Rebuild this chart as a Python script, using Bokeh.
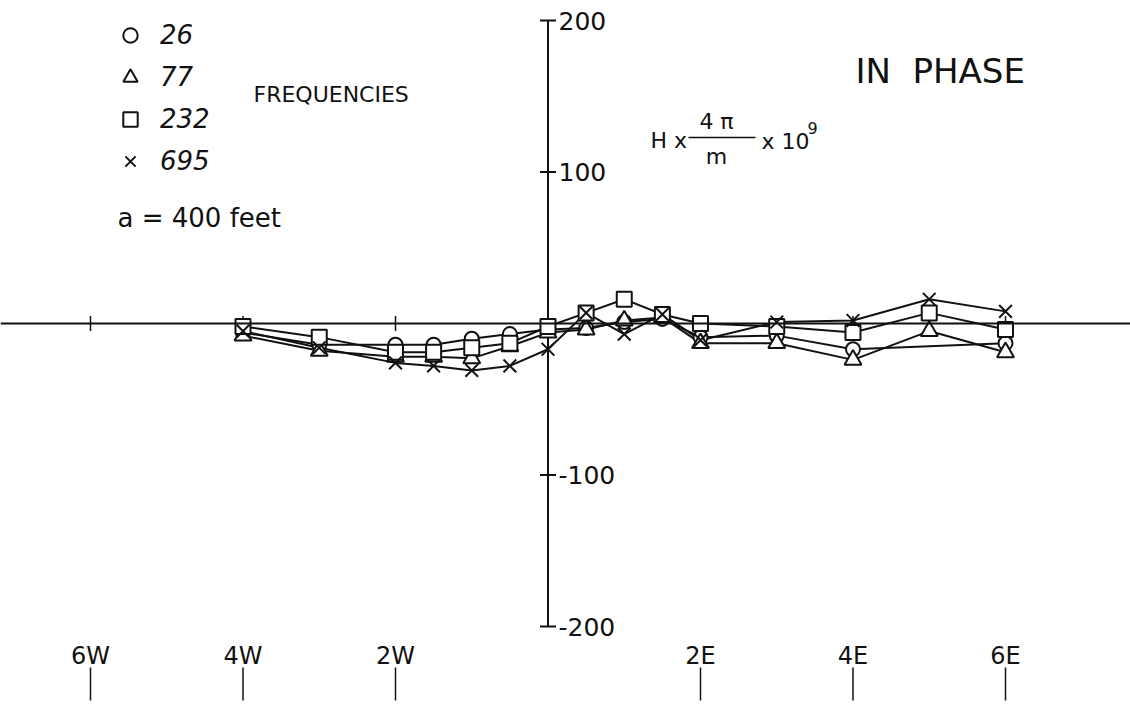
import math
from bokeh.plotting import figure
from bokeh.models import Range1d, Span, Legend, LegendItem, ColumnDataSource
from bokeh.core.properties import value
from bokeh.embed import file_html
from bokeh.resources import INLINE

# ---- data -------------------------------------------------------------
stations = [-4, -3, -2, -1.5, -1, -0.5, 0, 0.5, 1, 1.5, 2, 3, 4, 5, 6]
f26 = [-6, -14, -14, -14, -10, -7, -4, -3, 1, 3, -9, -8, -17, None, -13]
f77 = [-8, -18, -22, -22, -23, -15, -6, -4, 2, 4, -13, -13, -24, -5, -19]
f232 = [-2, -9, -19, -19, -16, -13, -2, 7, 16, 6, 0, -2, -6, 7, -4]
f695 = [-5, -16, -26, -28, -31, -28, -17, 7, -7, 6, -11, 1, 2, 16, 8]
series_labels = ["26", "77", "232", "695"]
series_markers = ["circle", "triangle", "square", "x"]

y_ticks = [200, 100, -100, -200]
y_tick_labels = ["200", "100", "-100", "-200"]
x_ticks = [-6, -4, -2, 2, 4, 6]
x_tick_labels = ["6W", "4W", "2W", "2E", "4E", "6E"]

# ---- figure -----------------------------------------------------------
W, H = 1130, 719
X0, XS = 547.5, 76.25   # pixel of 0, px per unit
Y0, YS = 323.0, 1.515


def X(px):
    return (px - X0) / XS


def Y(py):
    return (Y0 - py) / YS


p = figure(width=W, height=H, x_range=Range1d(X(0), X(W)), y_range=Range1d(Y(H), Y(0)),
           x_axis_type=None, y_axis_type=None, toolbar_location=None,
           output_backend="svg", min_border=0, outline_line_color=None)
p.xgrid.visible = False
p.ygrid.visible = False
p.background_fill_color = "white"

FONT = "DejaVu Sans"
INK = "#111111"

# axes
p.add_layout(Span(location=0, dimension="width", line_color=INK, line_width=2))
p.segment(x0=[0], y0=[-200], x1=[0], y1=[200], line_color=INK, line_width=2)
tick_half = 8 / XS
p.segment(x0=[-tick_half] * len(y_ticks), y0=y_ticks, x1=[tick_half] * len(y_ticks), y1=y_ticks,
          line_color=INK, line_width=2)
p.text(x=[X(558)] * len(y_ticks), y=y_ticks, text=y_tick_labels, text_font=value(FONT),
       text_font_size="25px", text_baseline="middle", text_align="left", text_color=INK)
p.segment(x0=x_ticks, y0=[-5] * len(x_ticks), x1=x_ticks, y1=[5] * len(x_ticks),
          line_color=INK, line_width=1.5)

# bottom station labels
p.text(x=x_ticks, y=[Y(655)] * len(x_ticks), text=x_tick_labels, text_font=value(FONT),
       text_font_size="24px", text_baseline="middle", text_align="center", text_color=INK)
p.segment(x0=x_ticks, y0=[Y(667)] * len(x_ticks), x1=x_ticks, y1=[Y(700)] * len(x_ticks),
          line_color=INK, line_width=1.5)

# series
renderers = []
for vals, mk in zip([f26, f77, f232, f695], series_markers):
    xs = [s for s, v in zip(stations, vals) if v is not None]
    ys = [v for v in vals if v is not None]
    src = ColumnDataSource(dict(x=xs, y=ys))
    p.line("x", "y", source=src, line_color=INK, line_width=2)
for vals, mk in zip([f26, f77, f232, f695], series_markers):
    xs = [s for s, v in zip(stations, vals) if v is not None]
    ys = [v for v in vals if v is not None]
    src = ColumnDataSource(dict(x=xs, y=ys))
    size = {"x": 18, "triangle": 17, "circle": 14, "square": 15}[mk]
    r = p.scatter("x", "y", source=src, marker=mk, size=size, fill_color="white",
                  line_color=INK, line_width=2)
    renderers.append(r)

legend = Legend(items=[LegendItem(label=lab, renderers=[r]) for lab, r in zip(series_labels, renderers)],
                location=(112, 540), orientation="vertical", glyph_width=36, glyph_height=36,
                label_height=36, spacing=6, padding=0, margin=0, label_standoff=12,
                label_text_font=FONT, label_text_font_size="26px", label_text_font_style="italic",
                label_text_color=INK, border_line_color=None, background_fill_alpha=0)
p.add_layout(legend)

# annotations
p.text(x=[X(253)], y=[Y(94)], text=["FREQUENCIES"], text_font=value(FONT), text_font_size="22px",
       text_baseline="middle", text_color=INK)
p.text(x=[X(117)], y=[Y(217)], text=["a = 400 feet"], text_font=value(FONT), text_font_size="26px",
       text_baseline="middle", text_color=INK)
p.text(x=[X(855)], y=[Y(70)], text=["IN"], text_font=value(FONT), text_font_size="34px",
       text_baseline="middle", text_color=INK)
p.text(x=[X(912)], y=[Y(70)], text=["PHASE"], text_font=value(FONT), text_font_size="34px",
       text_baseline="middle", text_color=INK)

# formula H x 4pi/m x 10^9
p.text(x=[X(650)], y=[Y(140)], text=["H x"], text_font=value(FONT), text_font_size="22px",
       text_baseline="middle", text_color=INK)
p.segment(x0=[X(688)], y0=[Y(137)], x1=[X(755)], y1=[Y(137)], line_color=INK, line_width=1.5)
p.text(x=[X(716)], y=[Y(121)], text=["4 π"], text_font=value(FONT), text_font_size="22px",
       text_baseline="middle", text_align="center", text_color=INK)
p.text(x=[X(716)], y=[Y(156)], text=["m"], text_font=value(FONT), text_font_size="22px",
       text_baseline="middle", text_align="center", text_color=INK)
p.text(x=[X(761)], y=[Y(141)], text=["x 10"], text_font=value(FONT), text_font_size="22px",
       text_baseline="middle", text_color=INK)
p.text(x=[X(807)], y=[Y(127)], text=["9"], text_font=value(FONT), text_font_size="16px",
       text_baseline="middle", text_color=INK)

open("out.html", "w").write(file_html(p, INLINE))
